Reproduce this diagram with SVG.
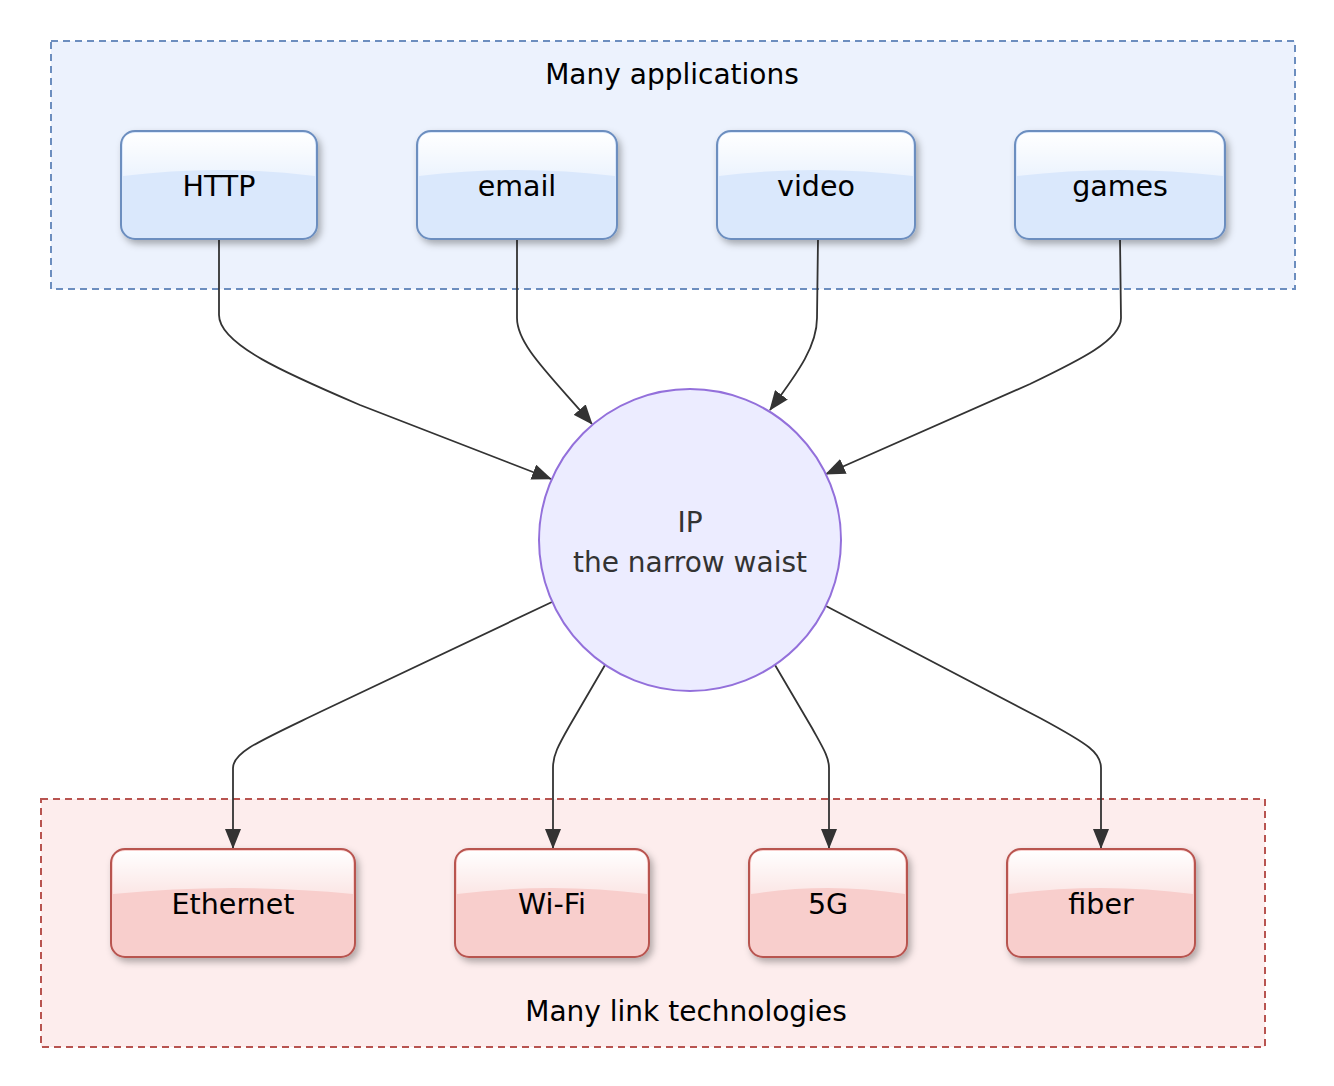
<svg xmlns="http://www.w3.org/2000/svg" width="1334" height="1086" viewBox="0 0 1334 1086">
<style>
  text { font-family: "DejaVu Sans", "Liberation Sans", sans-serif; text-anchor: middle; }
  .lbl { font-size: 28.5px; fill: #000; }
  .title { font-size: 28px; fill: #000; }
  .ip { font-size: 28px; fill: #333; }
  .blue { fill: #dae8fc; stroke: #6c8ebf; stroke-width: 2; filter: url(#sh); }
  .red { fill: #f8cecc; stroke: #b85450; stroke-width: 2; filter: url(#sh); }
  .glass { fill: url(#gl); stroke: none; }
  .edge { fill: none; stroke: #333; stroke-width: 1.8; marker-end: url(#arr); }
</style>
<defs>
  <filter id="sh" x="-10%" y="-10%" width="130%" height="140%">
    <feDropShadow dx="3" dy="4" stdDeviation="3.5" flood-color="#000" flood-opacity="0.3"/>
  </filter>
  <linearGradient id="gl" x1="0" y1="0" x2="0" y2="1">
    <stop offset="0" stop-color="#fff" stop-opacity="1"/>
    <stop offset="1" stop-color="#fff" stop-opacity="0.5"/>
  </linearGradient>
  <marker id="arr" viewBox="0 0 20 16" refX="19" refY="8" markerWidth="20" markerHeight="16" markerUnits="userSpaceOnUse" orient="auto">
    <path d="M0,0 L20,8 L0,16 z" fill="#333"/>
  </marker>
</defs>
<rect width="1334" height="1086" fill="#fff"/>

<g id="cluster-apps">
  <rect x="51" y="41" width="1244" height="248" fill="#ecf2fd" stroke="#6c8ebf" stroke-width="2" stroke-dasharray="7,5"/>
  <text class="title" x="672" y="84">Many applications</text>
</g>
<g id="cluster-links">
  <rect x="41" y="799" width="1224" height="248" fill="#fdeded" stroke="#b85450" stroke-width="2" stroke-dasharray="7,5"/>
  <text class="title" x="686" y="1021">Many link technologies</text>
</g>

<g id="edges">
  <path class="edge" d="M219,239 V315 C219,345 290,375 360,405 L551,479"/>
  <path class="edge" d="M517,239 V318 C517,345 550,375 592,424"/>
  <path class="edge" d="M818,239 L817,318 C817,345 800,370 770,410"/>
  <path class="edge" d="M1120,239 L1121,318 C1121,340 1080,360 1030,384 L826,474"/>
  <path class="edge" d="M552,602 L320,712 C260,741 233,752 233,768 V848"/>
  <path class="edge" d="M605,665 L570,725 C558,746 553,755 553,768 V848"/>
  <path class="edge" d="M775,665 L812,728 C823,748 829,757 829,768 V848"/>
  <path class="edge" d="M826,606 L1040,718 C1090,745 1101,753 1101,768 V848"/>
</g>

<g id="node-http">
  <rect class="blue" x="121" y="131" width="196" height="108" rx="14"/>
  <path class="glass" d="M123,176 V145 Q123,133 135,133 H303 Q315,133 315,145 V176 Q219,164 123,176 z"/>
  <text class="lbl" x="219" y="196">HTTP</text>
</g>
<g id="node-email">
  <rect class="blue" x="417" y="131" width="200" height="108" rx="14"/>
  <path class="glass" d="M419,176 V145 Q419,133 431,133 H603 Q615,133 615,145 V176 Q517,164 419,176 z"/>
  <text class="lbl" x="517" y="196">email</text>
</g>
<g id="node-video">
  <rect class="blue" x="717" y="131" width="198" height="108" rx="14"/>
  <path class="glass" d="M719,176 V145 Q719,133 731,133 H901 Q913,133 913,145 V176 Q816,164 719,176 z"/>
  <text class="lbl" x="816" y="196">video</text>
</g>
<g id="node-games">
  <rect class="blue" x="1015" y="131" width="210" height="108" rx="14"/>
  <path class="glass" d="M1017,176 V145 Q1017,133 1029,133 H1211 Q1223,133 1223,145 V176 Q1120,164 1017,176 z"/>
  <text class="lbl" x="1120" y="196">games</text>
</g>

<g id="node-ip">
  <circle cx="690" cy="540" r="151" fill="#ececff" stroke="#9370db" stroke-width="2"/>
  <text class="ip" x="690" y="532">IP</text>
  <text class="ip" x="690" y="572">the narrow waist</text>
</g>

<g id="node-ethernet">
  <rect class="red" x="111" y="849" width="244" height="108" rx="14"/>
  <path class="glass" d="M113,894 V863 Q113,851 125,851 H341 Q353,851 353,863 V894 Q233,882 113,894 z"/>
  <text class="lbl" x="233" y="914">Ethernet</text>
</g>
<g id="node-wifi">
  <rect class="red" x="455" y="849" width="194" height="108" rx="14"/>
  <path class="glass" d="M457,894 V863 Q457,851 469,851 H635 Q647,851 647,863 V894 Q552,882 457,894 z"/>
  <text class="lbl" x="552" y="914">Wi-Fi</text>
</g>
<g id="node-5g">
  <rect class="red" x="749" y="849" width="158" height="108" rx="14"/>
  <path class="glass" d="M751,894 V863 Q751,851 763,851 H893 Q905,851 905,863 V894 Q828,882 751,894 z"/>
  <text class="lbl" x="828" y="914">5G</text>
</g>
<g id="node-fiber">
  <rect class="red" x="1007" y="849" width="188" height="108" rx="14"/>
  <path class="glass" d="M1009,894 V863 Q1009,851 1021,851 H1181 Q1193,851 1193,863 V894 Q1101,882 1009,894 z"/>
  <text class="lbl" x="1101" y="914">fiber</text>
</g>
</svg>
